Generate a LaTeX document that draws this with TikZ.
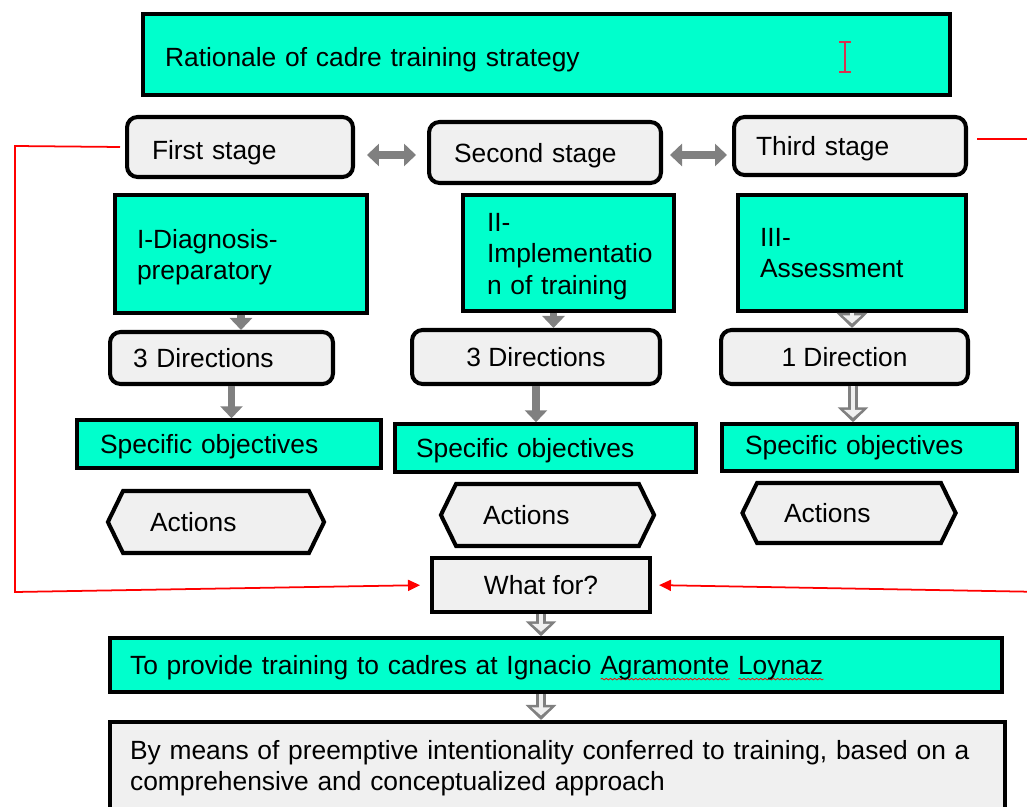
\documentclass[tikz,border=0pt]{standalone}
\usepackage{fontspec}
\setmainfont{Liberation Sans}
\usetikzlibrary{arrows.meta,shapes.symbols,decorations.pathmorphing}

\definecolor{boxcyan}{RGB}{0,255,204}
\definecolor{boxgray}{RGB}{240,240,240}
\definecolor{arrowgray}{RGB}{128,128,128}
\definecolor{cursorred}{RGB}{215,50,80}

% red wavy underline under unknown words
\newlength{\wavewd}
\newcommand{\spellwave}[1]{\settowidth{\wavewd}{#1}\rlap{\tikz[baseline=0pt]\draw[red, line width=0.45pt, decorate, decoration={snake, amplitude=0.45pt, segment length=2.4pt}] (0pt,-2.6pt) -- (\wavewd,-2.6pt);}#1}
% taller first line, pushes a block of lines down a little
\newcommand{\topstrut}{\rule{0pt}{14.3pt}}

\begin{document}
\begin{tikzpicture}[x=0.02cm, y=-0.02cm,
    font=\fontsize{15}{17.8}\selectfont,
    cyanbox/.style={rectangle, draw, line width=2pt, fill=boxcyan, align=left, inner ysep=0pt},
    oneline/.style={text depth=0pt},
    graybox/.style={rectangle, draw, line width=2.3pt, fill=boxgray, align=left, inner ysep=0pt},
    stage/.style={graybox, rounded corners=6pt, oneline},
    action/.style={signal, signal to=west and east, signal pointer angle=128, draw, line width=2.3pt, fill=boxgray, align=left, inner ysep=0pt},
    flow/.style={arrowgray, line width=4.2pt, -{Triangle[length=0.24cm, width=0.44cm]}},
    hollow/.style={arrowgray, line width=6pt, -{Triangle[length=0.3cm, width=0.6cm]},
        postaction={draw=boxgray, line width=2.6pt, -{Triangle[length=0.16cm, width=0.36cm]}, shorten >=0.09cm}},
    twoway/.style={arrowgray, line width=4pt, {Triangle[length=0.24cm, width=0.44cm]}-{Triangle[length=0.24cm, width=0.44cm]}},
    link/.style={red, line width=1pt, -{Triangle[length=0.24cm, width=0.22cm]}}
]
\useasboundingbox (0,0) rectangle (1027,807);
\clip (0,0) rectangle (1027,807);

% Title
\node[cyanbox, oneline, minimum height=1.62cm, text width=15.26cm, inner xsep=0.44cm, text height=13.5pt] (title) at (546.5,54.5) {Rationale of cadre training strategy};
\draw[cursorred, line width=1.6pt] (839,42) -- (851,42) (845,42) -- (845,72) (839,72) -- (851,72);

% Stages
\node[stage, minimum height=1.2cm, text width=3.52cm, inner xsep=0.5cm, text height=14.6pt] (s1) at (240,147) {First stage};
\node[stage, minimum height=1.22cm, text width=3.64cm, inner xsep=0.5cm] (s2) at (545,152.5) {Second stage};
\node[stage, minimum height=1.16cm, text width=3.76cm, inner xsep=0.44cm] (s3) at (850,146) {Third stage};

% Phases
\node[cyanbox, minimum height=2.36cm, text width=4.16cm, inner xsep=0.44cm] (p1) at (241,254) {\topstrut I-Diagnosis-\\preparatory};
\node[cyanbox, minimum height=2.32cm, text width=3.26cm, inner xsep=0.48cm] (p2) at (568.5,253) {\topstrut II-\\Implementatio\\n of training};
\node[cyanbox, minimum height=2.32cm, text width=3.68cm, inner xsep=0.44cm] (p3) at (852,253) {III-\\Assessment};

% Directions
\node[stage, minimum height=1.04cm, text width=3.54cm, inner xsep=0.46cm] (r1) at (221.5,358) {3 Directions};
\node[stage, minimum height=1.08cm, minimum width=4.96cm] (r2) at (536,357) {3 Directions};
\node[stage, minimum height=1.08cm, minimum width=4.94cm] (r3) at (844.5,357) {1 Direction};

% Specific objectives
\node[cyanbox, oneline, minimum height=0.96cm, text width=5.16cm, inner xsep=0.46cm] (o1) at (229,444) {Specific objectives};
\node[cyanbox, oneline, minimum height=0.96cm, text width=5.18cm, inner xsep=0.42cm] (o2) at (545.5,448) {Specific objectives};
\node[cyanbox, minimum height=0.94cm, text width=4.98cm, inner xsep=0.46cm] (o3) at (869.5,447.5) {Specific objectives};

% Actions
\node[action, minimum height=1.24cm, text width=2.64cm, inner xsep=0.54cm] (a1) at (216,522) {Actions};
\node[action, minimum height=1.24cm, text width=2.58cm, inner xsep=0.54cm] (a2) at (547.5,515) {Actions};
\node[action, minimum height=1.2cm, text width=2.6cm, inner xsep=0.54cm] (a3) at (849,513) {Actions};

% Purpose and means
\node[graybox, align=center, minimum width=4.36cm, minimum height=1.08cm] (wf) at (541,585) {What for?};
\node[cyanbox, oneline, minimum height=1.08cm, text width=17.04cm, inner xsep=0.4cm] (goal) at (556,665) {To provide training to cadres at Ignacio \spellwave{Agramonte} \spellwave{Loynaz}};
\node[graybox, minimum height=1.86cm, text width=17.1cm, inner xsep=0.4cm] (means) at (557.5,768.5) {By means of preemptive intentionality conferred to training, based on a\\comprehensive and conceptualized approach};

% Links between stages
\draw[twoway, shorten <=0.24cm, shorten >=0.22cm] ([yshift=-0.16cm]s1.east) -- ([yshift=-0.16cm]s1.east -| s2.west);
\draw[twoway, shorten <=0.14cm, shorten >=0.1cm] ([yshift=-0.05cm]s2.east) -- ([yshift=-0.05cm]s2.east -| s3.west);

% Flow down each stage
\draw[flow] (p1.south) -- (p1.south |- r1.north);
\draw[flow] ([xshift=0.2cm]r1.south) -- ([xshift=0.2cm]r1.south |- o1.north);
\draw[flow] ([xshift=-0.3cm]p2.south) -- ([xshift=-0.3cm]p2.south |- r2.north);
\draw[flow] (r2.south) -- (r2.south |- o2.north);
\draw[hollow] (p3.south) -- (p3.south |- r3.north);
\draw[hollow] ([xshift=0.17cm]r3.south) -- ([xshift=0.17cm]r3.south |- o3.north);

% Feedback to the purpose
\coordinate (lt) at (15,146);
\coordinate (lb) at (15,592);
\coordinate (rt) at (1045,139);
\coordinate (rb) at (1045,592);
\draw[link, shorten >=0.2cm] ([xshift=-0.1cm]s1.west) -- (lt) -- (lb) -- (wf.west);
\draw[link, shorten >=0.14cm] ([xshift=0.18cm, yshift=0.14cm]s3.east) -- (rt) -- (rb) -- (wf.east);

% Purpose to goal to means
\draw[hollow] (wf.south) -- (wf.south |- goal.north);
\draw[hollow] (wf.south |- goal.south) -- (wf.south |- means.north);

\end{tikzpicture}
\end{document}
